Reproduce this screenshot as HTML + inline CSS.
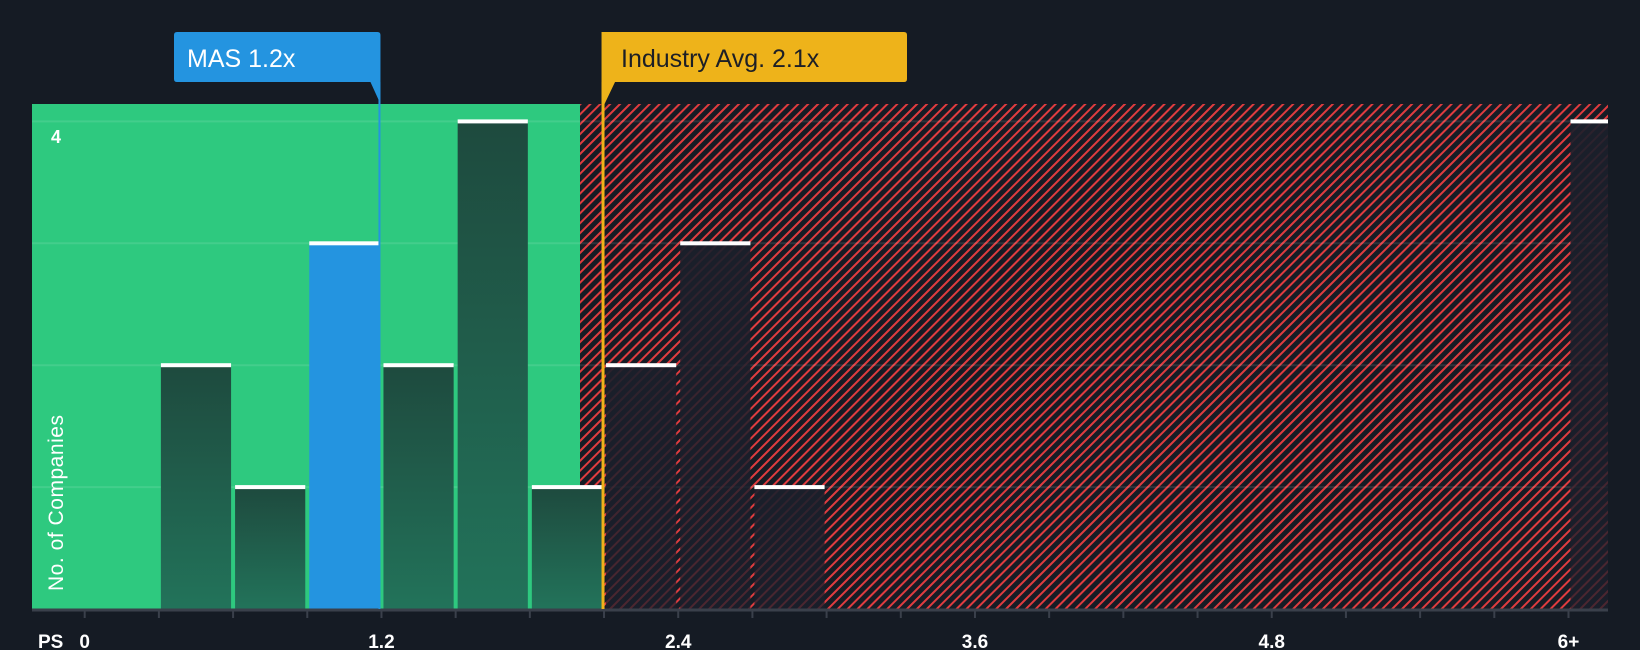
<!DOCTYPE html>
<html><head><meta charset="utf-8"><style>
html,body{margin:0;padding:0;background:#151b24;}
svg{display:block;font-family:"Liberation Sans",sans-serif;}
</style></head><body>
<svg id="chart" width="1640" height="650">
<defs>
<pattern id="hatch" patternUnits="userSpaceOnUse" width="7" height="10" patternTransform="rotate(45)">
<rect width="7" height="10" fill="#161c25"/>
<rect x="0" y="0" width="2" height="10" fill="#e03c3f"/>
</pattern>
<linearGradient id="darkbar" x1="0" y1="0" x2="0" y2="1">
<stop offset="0" stop-color="#1e4a3e"/><stop offset="1" stop-color="#22735a"/>
</linearGradient>
<linearGradient id="redbar" x1="0" y1="0" x2="0" y2="1">
<stop offset="0" stop-color="#1b1f2b" stop-opacity="0.92"/><stop offset="1" stop-color="#1b1f2b" stop-opacity="0.75"/>
</linearGradient>
</defs>
<g id="layer"></g>
</svg>
<script>
const binStarts=[0.3,0.6,0.9,1.2,1.5,1.8,2.1,2.4,2.7,6.0];
const counts=[2,1,3,2,4,1,2,3,1,4];
const xTicks=[0,0.3,0.6,0.9,1.2,1.5,1.8,2.1,2.4,2.7,3.0,3.3,3.6,3.9,4.2,4.5,4.8,5.1,5.4,5.7,6.0];
const xLabels=["0","1.2","2.4","3.6","4.8","6+"];
const xLabelVals=[0,1.2,2.4,3.6,4.8,6.0];
const yGrid=[1,2,3,4];
const companyVal=1.2, industryVal=2.1, binW=0.3;
const NS="http://www.w3.org/2000/svg";
const L=32,R=1608,T=104,B=609;
const x=v=>84.7+v*247.3;
const y=v=>B-v*121.9;
const g=document.getElementById('layer');
function mk(t,a,p){const e=document.createElementNS(NS,t);for(const k in a)e.setAttribute(k,a[k]);(p||g).appendChild(e);return e;}
const split=x(industryVal)-24;
let e;
e=mk('rect',{x:L,y:T,width:split-L,height:B-T,fill:'#2ec97f'});


e=mk('rect',{x:split,y:T,width:R-split,height:B-T,fill:'url(#hatch)'});


yGrid.forEach(v=>{
 e=mk('line',{x1:L,x2:R,y1:y(v),y2:y(v),stroke:'rgba(255,255,255,0.1)','stroke-width':2});
 
 
});
binStarts.forEach((s,i)=>{
 const x0=x(s)+2,x1=(s>=6?R:x(s+binW)-2);
 const top=y(counts[i]);
 const inRed=x0>=split;
 const isCo=companyVal>s-1e-9&&companyVal<=s+binW+1e-9&&s+binW<=companyVal+1e-9;
 const fill=isCo?'#2494e0':(inRed?'url(#redbar)':'url(#darkbar)');
 e=mk('rect',{x:x0,y:top,width:x1-x0,height:B-top,fill:fill});
 
 
 e=mk('rect',{x:x0,y:top-2,width:x1-x0,height:4,fill:'#ffffff'});
 
 
});
e=mk('line',{x1:L,x2:R,y1:B+1,y2:B+1,stroke:'#3a404b','stroke-width':3});


xTicks.forEach(v=>{
 e=mk('line',{x1:x(v),x2:x(v),y1:B,y2:B+9,stroke:'#3a404b','stroke-width':2});
 
 
});
xLabels.forEach((t,i)=>{
 e=mk('text',{x:x(xLabelVals[i]),y:648,'text-anchor':'middle',fill:'#fff','font-size':19,'font-weight':'bold'});
 e.textContent=t;
 
 
});
e=mk('text',{x:38,y:648,fill:'#fff','font-size':19,'font-weight':'bold'});e.textContent='PS';


e=mk('text',{x:56,y:143,'text-anchor':'middle',fill:'#fff','font-size':18,'font-weight':'bold'});e.textContent='4';


e=mk('text',{x:0,y:0,transform:'translate(63,591) rotate(-90)',fill:'#fff','font-size':21,'textLength':176});e.textContent='No. of Companies';


const cx=x(companyVal)-2;
e=mk('line',{x1:cx,x2:cx,y1:82,y2:B,stroke:'#2494e0','stroke-width':2});


e=mk('path',{d:`M174,35 Q174,32 177,32 L${cx-2},32 Q${cx+1},32 ${cx+1},35 L${cx+1},104 L${cx-9},82 L177,82 Q174,82 174,79 Z`,fill:'#2494e0'});


e=mk('text',{x:187,y:67,fill:'#fff','font-size':25});e.textContent='MAS 1.2x';


const ix=x(industryVal)-1;
e=mk('line',{x1:ix,x2:ix,y1:82,y2:B,stroke:'#eeb31a','stroke-width':3});


e=mk('path',{d:`M${ix-1.5},32 L904,32 Q907,32 907,35 L907,79 Q907,82 904,82 L${ix+12},82 L${ix+1.5},104 L${ix-1.5},104 Z`,fill:'#eeb31a'});


e=mk('text',{x:621,y:67,fill:'#1c1f26','font-size':25});e.textContent='Industry Avg. 2.1x';


</script>
</body></html>
